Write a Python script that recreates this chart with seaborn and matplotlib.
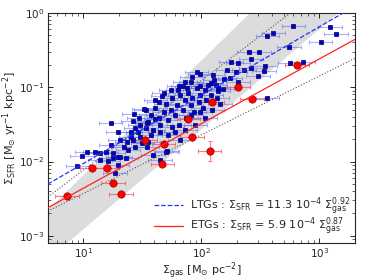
import numpy as np
import pandas as pd
import matplotlib
matplotlib.use('Agg')
import matplotlib.pyplot as plt
import seaborn as sns

# valores (log10)
ltg_log_gas = [2.78, 3.09, 3.14, 3.01, 2.74, 2.61, 2.56, 2.49, 2.40, 2.42, 2.25, 2.31, 2.75, 2.86,
               2.54, 2.42, 2.36, 2.53, 2.48, 2.29, 2.22, 1.96, 1.99, 1.92, 2.19, 2.24, 2.31, 2.10,
               2.12, 1.99, 2.08, 2.18, 1.88, 1.91, 1.84, 2.56, 2.14,
               1.53, 1.57, 1.55, 1.61, 1.64, 1.65, 1.68, 1.70, 1.72, 1.74, 1.75, 1.78, 1.79, 1.81,
               1.82, 1.84, 1.86, 1.87, 1.89, 1.91, 1.92, 1.94, 1.96, 1.98, 1.99, 2.01, 2.03, 2.04,
               2.06, 2.08, 2.09, 2.11, 2.13, 2.14, 2.16, 2.03, 1.95, 1.86, 1.78, 1.72, 1.65, 1.59,
               1.53, 1.48, 1.47, 1.44, 1.40, 1.61, 1.67, 1.74, 1.81, 1.86, 1.57, 1.75, 1.91, 1.99,
               1.82, 1.71, 1.80,
               1.23, 1.29, 1.43, 1.51, 1.64, 1.68, 1.42, 1.54, 1.61, 1.46, 1.40, 0.99, 1.03, 1.10,
               1.14, 1.19, 1.25, 1.29, 1.34, 1.38, 1.44, 1.50, 1.54, 1.36, 0.95, 1.21, 1.14, 1.31,
               1.25, 1.29, 1.27, 1.55, 1.59, 1.65, 1.70, 1.37, 1.31, 1.23, 1.42, 1.48]
ltg_log_sfr = [-0.18, -0.19, -0.28, -0.39, -0.46, -0.27, -0.31, -0.53, -0.53, -0.62, -0.66, -0.67, -0.67, -0.66,
               -0.71, -0.74, -0.77, -0.78, -0.85, -0.79, -0.77, -0.79, -0.82, -0.86, -0.89, -0.88, -0.93, -0.83,
               -0.97, -0.98, -0.94, -1.02, -1.01, -0.93, -0.98, -1.14, -1.05,
               -1.31, -1.37, -1.47, -1.28, -1.41, -1.51, -1.33, -1.23, -1.44, -1.31, -1.14, -1.37, -1.24, -1.51,
               -1.10, -1.31, -1.17, -1.41, -1.08, -1.24, -1.14, -1.33, -1.01, -1.20, -1.10, -1.28, -1.04, -1.17,
               -0.97, -1.10, -1.31, -0.90, -1.14, -1.01, -1.23, -1.41, -1.51, -1.58, -1.60, -1.64, -1.60, -1.58,
               -1.55, -1.51, -1.41, -1.55, -1.60, -1.17, -1.12, -1.04, -0.98, -0.93, -1.64, -1.53, -1.37, -1.33,
               -1.71, -1.86, -1.04,
               -1.48, -1.60, -1.36, -1.29, -1.20, -1.08, -1.45, -1.48, -1.43, -1.60, -1.67, -1.92, -1.87, -1.87,
               -1.88, -1.87, -1.88, -1.94, -1.80, -1.84, -1.80, -1.75, -1.80, -1.95, -2.06, -1.99, -1.98, -1.94,
               -1.95, -2.05, -2.15, -1.74, -1.91, -1.98, -1.87, -1.74, -1.71, -1.78, -1.71, -1.67]

etg_log_gas = [2.81, 2.31, 2.43, 2.09, 1.89, 1.92, 1.52, 1.68, 2.07, 1.67, 1.07, 1.20, 1.25, 1.32, 0.86]
etg_log_sfr = [-0.70, -1.00, -1.16, -1.20, -1.43, -1.67, -1.71, -1.76, -1.86, -2.03, -2.09, -2.09, -2.29, -2.44, -2.46]
etg_yerr_dex = [0, 0, 0, 0, 0, 0, 0, 0, 0.135, 0, 0, 0, 0, 0, 0]
xerr_dex = 0.1

# relações: (normalização, expoente)
ltg_fit = (11.3e-4, 0.92)
etg_fit = (5.9e-4, 0.87)
dotted_upper = (10**-3.32, 1.205)
dotted_lower = (10**-3.22, 0.79)
band_upper = (10**-3.73, 1.545)
band_lower = (10**-4.26, 1.347)

ltg = pd.DataFrame({'gas': 10**np.array(ltg_log_gas), 'sfr': 10**np.array(ltg_log_sfr)})
etg = pd.DataFrame({'gas': 10**np.array(etg_log_gas), 'sfr': 10**np.array(etg_log_sfr),
                    'yerr': np.array(etg_yerr_dex)})

sns.set_style('ticks')
plt.rcParams['font.family'] = ['DejaVu Sans']
plt.rcParams['mathtext.fontset'] = 'dejavusans'

fig = plt.figure(figsize=(3.74, 2.80), dpi=100)
ax = fig.add_axes([0.128, 0.132, 0.821, 0.822])
ax.set_xscale('log')
ax.set_yscale('log')

xx = np.logspace(np.log10(5.0), np.log10(2000.0), 200)
ax.fill_between(xx, band_lower[0]*xx**band_lower[1], band_upper[0]*xx**band_upper[1],
                color='#dcdcdc', lw=0, zorder=0)
ax.plot(xx, dotted_upper[0]*xx**dotted_upper[1], ':', color='#555555', lw=0.8, zorder=1)
ax.plot(xx, dotted_lower[0]*xx**dotted_lower[1], ':', color='#555555', lw=0.8, zorder=1)

def err_dex(v, d):
    return np.vstack([v - v*10**(-d), v*10**d - v])

ax.errorbar(ltg['gas'], ltg['sfr'], xerr=err_dex(ltg['gas'].values, xerr_dex), fmt='none',
            ecolor='#5868ff', alpha=0.5, elinewidth=0.8, capsize=1.5, capthick=0.8, zorder=2)
ax.errorbar(etg['gas'], etg['sfr'], xerr=err_dex(etg['gas'].values, xerr_dex),
            yerr=err_dex(etg['sfr'].values, etg['yerr'].values), fmt='none',
            ecolor='#ff4a4a', alpha=0.7, elinewidth=0.8, capsize=1.5, capthick=0.8, zorder=2)

sns.scatterplot(data=ltg, x='gas', y='sfr', marker='s', s=10, color='#0000dd',
                edgecolor='#000055', linewidth=0.5, legend=False, ax=ax, zorder=3)
sns.scatterplot(data=etg, x='gas', y='sfr', marker='o', s=28, color='#ff0000',
                edgecolor='#990000', linewidth=0.5, legend=False, ax=ax, zorder=4)

ax.plot(xx, ltg_fit[0]*xx**ltg_fit[1], '--', color='#2233ff', lw=0.9, zorder=5,
        label=r'LTGs : $\Sigma_{\rm SFR}$ = 11.3 $10^{-4}$ $\Sigma_{\rm gas}^{0.92}$')
ax.plot(xx, etg_fit[0]*xx**etg_fit[1], '-', color='#ff2222', lw=0.9, zorder=5,
        label=r'ETGs : $\Sigma_{\rm SFR}$ = 5.9 $10^{-4}$ $\Sigma_{\rm gas}^{0.87}$')

ax.set_xlim(5, 2000)
ax.set_ylim(8e-4, 1)
ax.set_xlabel(r'$\Sigma_{\rm gas}$ [M$_{\odot}$ pc$^{-2}$]', fontsize=8, labelpad=0)
ax.set_ylabel(r'$\Sigma_{\rm SFR}$ [M$_{\odot}$ yr$^{-1}$ kpc$^{-2}$]', fontsize=8, labelpad=0)
ax.tick_params(which='both', direction='in', top=True, right=True, labelsize=7.5)
ax.tick_params(which='major', length=3.5, width=0.7, pad=2.5)
ax.tick_params(which='minor', length=2, width=0.5)
for s in ax.spines.values():
    s.set_linewidth(0.8)

ax.legend(loc='lower right', frameon=False, fontsize=8, handlelength=2.6,
          handletextpad=0.6, borderaxespad=0.05, labelspacing=-0.15)

fig.savefig('out.png', dpi=100)
